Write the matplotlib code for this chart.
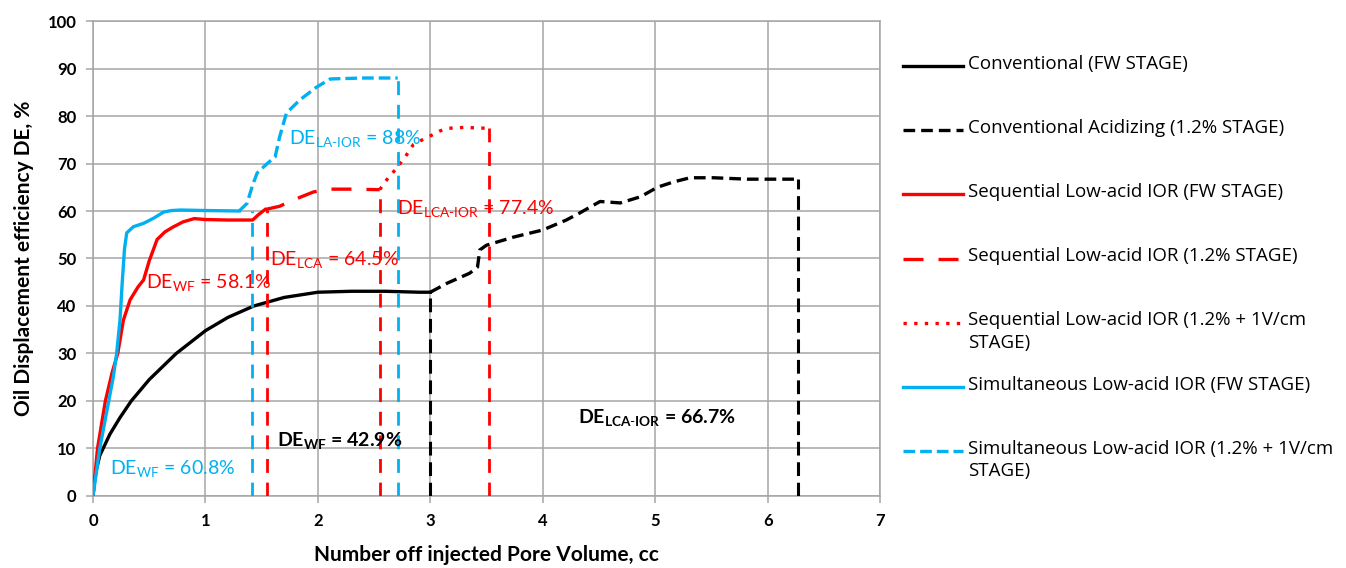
import matplotlib
matplotlib.use('Agg')
import matplotlib.pyplot as plt
from matplotlib.lines import Line2D

plt.rcParams['font.family'] = ['Lato', 'DejaVu Sans']
plt.rcParams['mathtext.fontset'] = 'custom'
plt.rcParams['mathtext.rm'] = 'Lato'
plt.rcParams['mathtext.bf'] = 'Lato:bold'

BLACK = '#000000'
RED = '#FF0000'
BLUE = '#00B0F0'

# Conventional (FW STAGE)
conv_fw_x = [0, 0.01, 0.03, 0.06, 0.09, 0.15, 0.24, 0.34, 0.5, 0.74, 1.0, 1.2, 1.43,
             1.7, 2.0, 2.3, 2.6, 2.9, 3.0]
conv_fw_y = [0, 2.5, 5.5, 8.5, 10, 13, 16.5, 20, 24.5, 30, 34.8, 37.6, 40,
             41.8, 42.9, 43.1, 43.1, 42.9, 42.9]

# Conventional Acidizing (1.2% STAGE)
conv_acid_x = [3.0, 3.15, 3.35, 3.42, 3.44, 3.5, 3.74, 4.0, 4.21, 4.33, 4.51, 4.69,
               4.87, 5.02, 5.16, 5.31, 5.52, 5.82, 6.27]
conv_acid_y = [42.9, 44.8, 46.9, 48.2, 51.8, 52.8, 54.5, 56.0, 58.1, 59.6, 62.0, 61.7,
               63.0, 65.0, 66.1, 67.0, 67.0, 66.7, 66.7]

# Sequential Low-acid IOR (FW STAGE)
seq_fw_x = [0, 0.04, 0.11, 0.17, 0.22, 0.27, 0.33, 0.4, 0.45, 0.5, 0.57, 0.64, 0.71,
            0.8, 0.9, 1.0, 1.2, 1.42, 1.47, 1.53]
seq_fw_y = [0, 10, 20, 26, 30, 37, 41.3, 44, 45.5, 49.5, 54, 55.6, 56.6,
            57.7, 58.4, 58.2, 58.1, 58.1, 59.2, 60.3]

# Sequential Low-acid IOR (1.2% STAGE)
seq_acid_x = [1.53, 1.66, 1.78, 1.96, 2.08, 2.3, 2.52, 2.55]
seq_acid_y = [60.3, 61, 62.3, 64, 64.6, 64.6, 64.5, 64.5]

# Sequential Low-acid IOR (1.2% + 1V/cm STAGE)
seq_ev_x = [2.55, 2.62, 2.7, 2.78, 2.85, 2.93, 3.0, 3.08, 3.15, 3.3, 3.52]
seq_ev_y = [64.5, 66.8, 69, 71.5, 74, 75, 75.8, 76.8, 77.4, 77.6, 77.4]

# Simultaneous Low-acid IOR (FW STAGE)
sim_fw_x = [0, 0.03, 0.06, 0.1, 0.14, 0.18, 0.21, 0.24, 0.26, 0.28, 0.3, 0.36, 0.45,
            0.54, 0.63, 0.7, 0.78, 1.0, 1.3]
sim_fw_y = [0, 5, 10, 15, 20, 25, 30, 37, 45, 52, 55.4, 56.7, 57.4,
            58.5, 59.8, 60.1, 60.2, 60.1, 60.0]

# Simultaneous Low-acid IOR (1.2% + 1V/cm STAGE)
sim_ev_x = [1.3, 1.37, 1.42, 1.46, 1.55, 1.62, 1.66, 1.72, 1.84, 1.99, 2.11, 2.4, 2.71]
sim_ev_y = [60, 61.6, 65.5, 68, 70, 71.4, 75.6, 80.6, 83.4, 86.1, 87.8, 88, 88]

# stage end markers (vertical drop lines)
black_drop_x = [3.0, 6.27]
black_drop_top = [42.9, 66.7]
red_drop_x = [1.55, 2.55, 3.52]
red_drop_top = [60.3, 64.5, 77.4]
blue_drop_x = [1.41, 2.71]
blue_drop_top = [60.0, 88.0]

labels = ['Conventional (FW STAGE)',
          'Conventional Acidizing (1.2% STAGE)',
          'Sequential Low-acid IOR (FW STAGE)',
          'Sequential Low-acid IOR (1.2% STAGE)',
          'Sequential Low-acid IOR (1.2% + 1V/cm\nSTAGE)',
          'Simultaneous Low-acid IOR (FW STAGE)',
          'Simultaneous Low-acid IOR (1.2% + 1V/cm\nSTAGE)']

notes = [(0.47, 44.8, r'DE$_{\mathregular{WF}}$ = 58.1%', RED, 'normal'),
         (1.57, 49.7, r'DE$_{\mathregular{LCA}}$ = 64.5%', RED, 'normal'),
         (1.74, 75.0, r'DE$_{\mathregular{LA\text{-}IOR}}$ = 88%', BLUE, 'normal'),
         (2.70, 60.4, r'DE$_{\mathregular{LCA\text{-}IOR}}$ = 77.4%', RED, 'normal'),
         (1.64, 11.4, r'DE$_{\mathbf{WF}}$ = 42.9%', BLACK, 'bold'),
         (4.31, 16.4, r'DE$_{\mathbf{LCA\text{-}IOR}}$ = 66.7%', BLACK, 'bold'),
         (0.15, 5.7, r'DE$_{\mathregular{WF}}$ = 60.8%', BLUE, 'normal')]

fig = plt.figure(figsize=(13.46, 5.68), dpi=100)
ax = fig.add_axes([0.0691, 0.1268, 0.5847, 0.8362])

lw = 2.4
styles = [
    (conv_fw_x, conv_fw_y, BLACK, '-'),
    (conv_acid_x, conv_acid_y, BLACK, (0, (3.5, 1.8))),
    (seq_fw_x, seq_fw_y, RED, '-'),
    (seq_acid_x, seq_acid_y, RED, (0, (6, 4.5))),
    (seq_ev_x, seq_ev_y, RED, (0, (1, 2.2))),
    (sim_fw_x, sim_fw_y, BLUE, '-'),
    (sim_ev_x, sim_ev_y, BLUE, (0, (3.5, 1.5))),
]
for xs, ys, c, ls in styles:
    ax.plot(xs, ys, color=c, lw=lw, ls=ls, zorder=3)

ax.vlines(black_drop_x, 0, black_drop_top, colors=BLACK, lw=2.2,
          linestyles=[(0, (4.5, 2.2))], zorder=3)
ax.vlines(red_drop_x, 0, red_drop_top, colors=RED, lw=2.0,
          linestyles=[(0, (5, 3.5))], zorder=3)
ax.vlines(blue_drop_x, 0, blue_drop_top, colors=BLUE, lw=2.0,
          linestyles=[(0, (5, 3.5))], zorder=3)

for x, y, s, c, w in notes:
    ax.text(x, y, s, color=c, fontsize=14, fontweight=w, va='center', ha='left', zorder=4)

ax.set_xlim(0, 7)
ax.set_ylim(0, 100)
ax.set_xticks(range(0, 8))
ax.set_yticks(range(0, 101, 10))
ax.grid(True, color='#A6A6A6', lw=1.1)
ax.set_axisbelow(True)
for sp in ax.spines.values():
    sp.set_color('#A6A6A6')
    sp.set_linewidth(1.1)
ax.tick_params(direction='out', length=5, width=1.1, color='#A6A6A6',
               labelsize=12, pad=7)
for lab in ax.get_xticklabels() + ax.get_yticklabels():
    lab.set_fontweight('bold')
ax.set_xlabel('Number off injected Pore Volume, cc', fontsize=15, fontweight='bold',
              labelpad=12)
ax.set_ylabel('Oil Displacement efficiency DE, %', fontsize=15, fontweight='bold',
              labelpad=10)

# legend drawn beside the plot area, entries evenly spaced like the source
leg_top = 66
leg_step = 64.2
for i, ((xs, ys, c, ls), lab) in enumerate(zip(styles, labels)):
    yy = 1 - (leg_top + i * leg_step) / 568
    fig.add_artist(Line2D([903 / 1346, 963 / 1346], [yy, yy], color=c, lw=lw, ls=ls,
                          transform=fig.transFigure))
    fig.text(968 / 1346, yy + 0.02, lab, fontsize=13.5, family=['Open Sans', 'DejaVu Sans'],
             va='top', ha='left', linespacing=1.3, transform=fig.transFigure)

fig.savefig('out.png', dpi=100)
